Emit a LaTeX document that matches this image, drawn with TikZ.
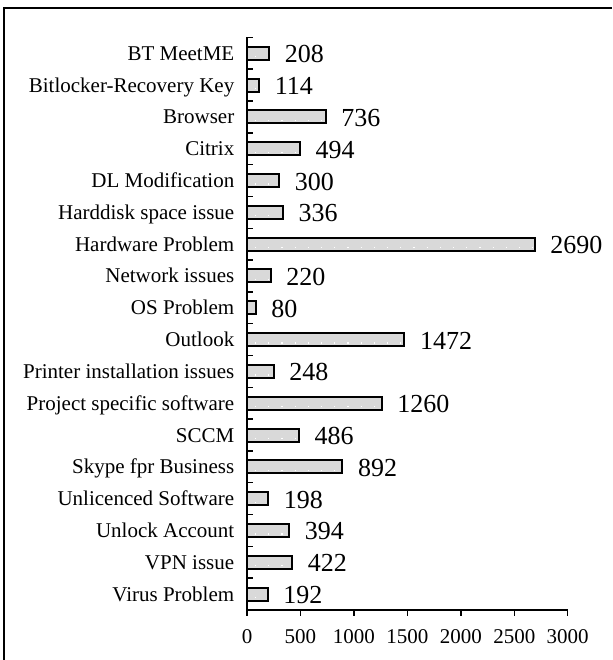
\documentclass[tikz,border=0pt]{standalone}
\usepackage{fontspec}
\setmainfont{Liberation Serif}
\definecolor{barfill}{HTML}{D9D9D9}
\tikzset{
  catlabel/.style={anchor=base east, inner sep=0pt, font=\fontsize{21}{24}\selectfont},
  vallabel/.style={anchor=base west, inner sep=0pt, font=\fontsize{26}{30}\selectfont},
  ticklabel/.style={anchor=base, inner sep=0pt, font=\fontsize{21}{24}\selectfont},
  bar/.style={draw=black, line width=2pt, fill=barfill}
}
\begin{document}
\begin{tikzpicture}[x=1pt,y=-1pt,line width=1.5pt]
\useasboundingbox (0,0) rectangle (612,660);
% frame
\draw[line width=2pt] (4,660) -- (4,8) -- (612,8);
% axes
\coordinate (origin) at (247,610);
\coordinate (axtop) at (247,37.4);
\coordinate (axend) at (567.7,610);
\draw (axtop) -- (origin) -- (axend);
\foreach \k in {0,...,18}
  \draw (247,{37.4+\k*31.81}) -- (253,{37.4+\k*31.81});
\foreach \t [count=\j from 0] in {0,500,1000,1500,2000,2500,3000} {
  \draw ({247+\t*0.1069},610) -- ({247+\t*0.1069},616);
  \node[ticklabel] (tick\j) at ({247+\t*0.1069},643) {\t};
}
% bars
\foreach \name/\val [count=\i from 0] in {BT MeetME/208,Bitlocker-Recovery Key/114,Browser/736,Citrix/494,DL Modification/300,Harddisk space issue/336,Hardware Problem/2690,Network issues/220,OS Problem/80,Outlook/1472,Printer installation issues/248,Project specific software/1260,SCCM/486,Skype fpr Business/892,Unlicenced Software/198,Unlock Account/394,VPN issue/422,Virus Problem/192} {
  \pgfmathsetmacro{\yc}{53.3+\i*31.81}
  \pgfmathsetmacro{\xe}{247+\val*0.1069}
  \draw[bar] (247,\yc-6.5) rectangle (\xe,\yc+6.5);
  \draw[white, line width=1.2pt, dash pattern=on 1.2pt off 12pt, dash phase=-6pt] (249,\yc+3.5) -- (\xe-2,\yc+3.5);
  \node[catlabel] (cat\i) at (235,\yc+7) {\name};
  \node[vallabel] (val\i) at (\xe+15,\yc+9.5) {\val};
}
\end{tikzpicture}
\end{document}
